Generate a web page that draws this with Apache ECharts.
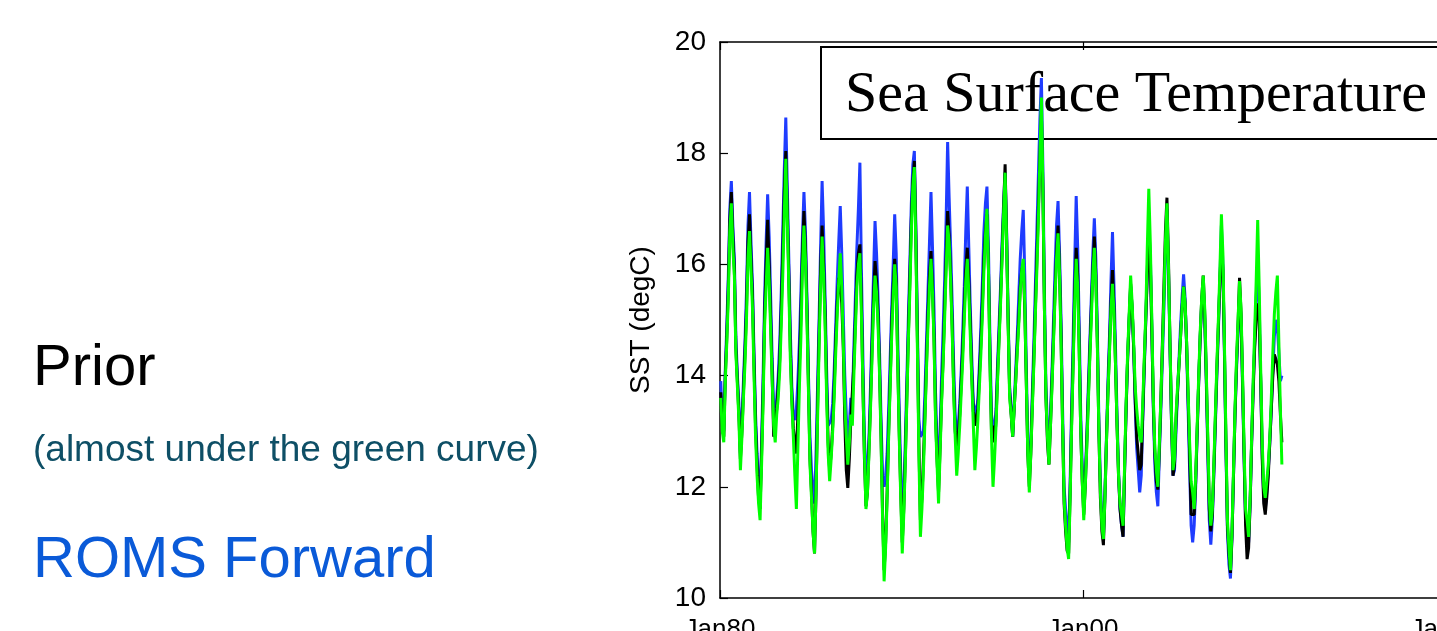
<!DOCTYPE html>
<html>
<head>
<meta charset="utf-8">
<script src="https://cdn.jsdelivr.net/npm/echarts@6/dist/echarts.min.js"></script>
<style>
html, body { margin: 0; padding: 0; background: #fff; }
#sstchart { width: 1437px; height: 631px; }
</style>
</head>
<body>
<div id="sstchart"></div>
<script>
// one row per year, Jan..Dec monthly SST (degC)
const years = [1980, 1981, 1982, 1983, 1984, 1985, 1986, 1987, 1988, 1989,
  1990, 1991, 1992, 1993, 1994, 1995, 1996, 1997, 1998, 1999,
  2000, 2001, 2002, 2003, 2004, 2005, 2006, 2007, 2008, 2009, 2010];

const xTickLabels = ['Jan80', 'Jan00', 'Jan20'];

// ROMS Forward (blue)
const forwardSST = [
  13.9, 13.2, 13.0, 14.1, 14.9, 15.8, 17.0, 17.5, 16.7, 16.1, 14.7, 14.0,
  13.5, 12.6, 13.2, 13.9, 14.6, 15.5, 16.7, 17.3, 16.4, 15.6, 14.4, 13.3,
  12.6, 12.0, 11.8, 12.8, 14.0, 15.4, 16.4, 17.26, 16.5, 15.4, 14.3, 13.4,
  13.2, 13.6, 14.0, 14.6, 15.5, 16.6, 17.7, 18.64, 17.4, 16.1, 14.8, 13.8,
  13.3, 13.2, 13.4, 13.9, 14.6, 15.5, 16.5, 17.3, 16.6, 15.4, 14.0, 12.9,
  12.3, 11.9, 11.7, 12.6, 13.8, 15.0, 16.3, 17.5, 16.6, 15.4, 14.1, 13.1,
  13.1, 13.2, 13.5, 14.1, 14.9, 15.7, 16.4, 17.05, 16.2, 15.1, 14.0, 13.3,
  12.6, 13.1, 13.6, 13.5, 14.5, 15.4, 16.3, 17.0, 17.83, 15.9, 14.3, 12.9,
  12.1, 12.3, 12.9, 13.8, 14.8, 15.8, 16.78, 16.2, 15.4, 14.4, 13.2, 12.2,
  12.0, 12.2, 12.6, 13.4, 14.3, 15.2, 16.0, 16.9, 16.2, 14.7, 13.4, 12.3,
  11.5, 11.9, 12.8, 13.9, 15.0, 16.0, 17.1, 17.8, 18.04, 16.7, 14.9, 13.2,
  12.9, 12.9, 13.0, 13.7, 14.6, 15.5, 16.4, 17.3, 16.3, 15.2, 13.7, 12.8,
  12.1, 13.0, 14.0, 14.8, 15.7, 16.8, 18.2, 17.2, 16.3, 15.3, 14.2, 13.3,
  12.8, 13.1, 13.5, 14.1, 14.8, 15.6, 16.6, 17.4, 16.3, 15.2, 14.3, 13.5,
  13.5, 13.3, 13.6, 14.2, 14.9, 15.7, 16.6, 17.1, 17.4, 16.3, 14.6, 13.3,
  13.1, 13.0, 13.4, 14.2, 14.9, 15.6, 16.4, 17.1, 17.65, 16.6, 15.1, 13.8,
  13.4, 12.9, 13.5, 14.1, 14.7, 15.4, 16.1, 16.6, 16.98, 15.8, 14.2, 12.8,
  12.2, 12.8, 13.7, 14.6, 15.6, 16.6, 17.6, 18.6, 19.35, 17.7, 15.5, 13.8,
  13.1, 12.6, 13.3, 14.1, 15.0, 15.9, 16.7, 17.14, 16.2, 15.0, 13.4, 12.0,
  11.6, 11.3, 11.0, 12.1, 13.5, 14.7, 16.0, 17.23, 16.3, 14.9, 13.3, 12.4,
  11.7, 12.2, 12.9, 13.8, 14.6, 15.4, 16.2, 16.83, 16.1, 14.8, 13.2, 12.1,
  11.4, 11.1, 11.9, 12.9, 13.9, 14.7, 15.7, 16.58, 15.6, 14.5, 13.3, 12.3,
  11.6, 11.3, 11.1, 12.3, 13.4, 14.3, 15.0, 15.6, 15.2, 14.5, 13.5, 12.7,
  12.3, 11.9, 12.2, 13.2, 14.1, 15.0, 15.9, 16.6, 16.2, 14.9, 13.4, 12.4,
  11.9, 11.65, 12.6, 13.4, 14.3, 15.2, 16.2, 17.0, 15.9, 14.5, 13.2, 12.2,
  12.3, 13.0, 13.7, 14.3, 14.9, 15.4, 15.82, 15.4, 14.5, 13.4, 12.3, 11.3,
  11.0, 11.3, 12.0, 13.0, 13.9, 14.7, 15.3, 15.6, 15.0, 13.9, 12.6, 11.4,
  10.96, 11.4, 12.2, 13.1, 14.0, 14.8, 15.7, 16.7, 16.0, 14.4, 12.7, 11.2,
  10.6, 10.35, 11.1, 12.2, 13.3, 14.1, 14.8, 15.5, 15.0, 13.8, 12.5, 11.4,
  11.2, 11.0, 11.7, 12.8, 13.8, 14.6, 15.4, 16.0, 15.3, 13.9, 12.6, 11.8,
  11.6, 11.9, 12.3, 12.8, 13.4, 14.1, 14.7, 15.0, 14.9, 14.4, 13.9, 14.0
];

// Prior (black)
const priorSST = [
  13.7, 13.1, 12.9, 14.0, 14.7, 15.6, 16.8, 17.3, 16.5, 15.9, 14.5, 13.9,
  13.3, 12.5, 13.0, 13.7, 14.4, 15.2, 16.4, 16.9, 16.1, 15.4, 14.2, 13.1,
  12.4, 11.8, 11.6, 12.6, 13.7, 15.1, 16.0, 16.8, 16.0, 15.0, 14.0, 12.9,
  12.9, 13.4, 13.8, 14.3, 15.2, 16.2, 17.3, 18.04, 17.0, 15.8, 14.5, 13.6,
  13.05, 12.8, 12.6, 13.3, 14.2, 15.1, 16.2, 16.96, 16.3, 15.2, 13.8, 12.5,
  11.9, 11.2, 10.8, 11.9, 13.4, 14.7, 15.9, 16.7, 16.0, 15.1, 13.8, 12.8,
  12.3, 12.6, 13.1, 13.8, 14.6, 15.3, 15.76, 15.6, 15.3, 14.5, 13.2, 12.3,
  11.98, 12.5, 13.2, 13.2, 14.2, 15.0, 15.8, 16.2, 16.36, 15.3, 13.8, 12.5,
  11.65, 11.9, 12.7, 13.5, 14.5, 15.4, 16.06, 15.7, 15.1, 14.1, 12.9, 11.5,
  10.5, 11.0, 11.9, 13.0, 13.9, 14.9, 15.6, 16.1, 15.7, 14.3, 13.0, 11.9,
  11.0, 11.6, 12.5, 13.6, 14.7, 15.7, 16.8, 17.5, 17.86, 16.5, 14.7, 12.8,
  11.4, 11.8, 12.5, 13.3, 14.2, 15.1, 15.8, 16.24, 15.6, 14.7, 13.3, 12.5,
  11.9, 12.7, 13.6, 14.3, 15.2, 16.1, 16.96, 16.5, 15.8, 14.9, 13.8, 13.0,
  12.7, 12.9, 13.3, 13.9, 14.5, 15.2, 15.9, 16.3, 15.7, 14.9, 14.0, 13.36,
  13.1, 13.1, 13.4, 14.0, 14.6, 15.3, 16.1, 16.6, 16.9, 15.9, 14.3, 13.0,
  13.1, 12.8, 13.2, 14.0, 14.7, 15.4, 16.2, 17.0, 17.8, 16.5, 15.0, 13.7,
  13.3, 12.9, 13.4, 13.9, 14.5, 15.0, 15.6, 15.9, 16.0, 15.2, 13.9, 12.6,
  12.0, 12.6, 13.5, 14.3, 15.2, 16.1, 17.0, 17.9, 18.7, 17.3, 15.2, 13.6,
  12.8, 12.4, 13.1, 13.9, 14.7, 15.5, 16.2, 16.7, 15.9, 14.7, 13.1, 11.7,
  11.2, 10.85, 10.8, 11.9, 13.2, 14.3, 15.5, 16.3, 15.8, 14.5, 13.0, 12.1,
  11.5, 12.0, 12.8, 13.6, 14.4, 15.2, 15.9, 16.5, 15.8, 14.6, 13.0, 11.8,
  11.2, 10.95, 11.8, 12.8, 13.7, 14.5, 15.3, 15.9, 15.2, 14.2, 13.1, 12.2,
  11.6, 11.3, 11.1, 12.3, 13.4, 14.3, 15.0, 15.65, 15.2, 14.5, 13.6, 12.9,
  12.6, 12.3, 12.4, 13.3, 14.2, 15.0, 15.8, 16.4, 16.0, 14.8, 13.5, 12.6,
  12.1, 11.95, 12.7, 13.6, 14.6, 15.6, 16.6, 17.2, 16.1, 14.6, 13.2, 12.2,
  12.4, 13.2, 13.7, 14.2, 14.7, 15.2, 15.6, 15.3, 14.6, 13.6, 12.6, 11.5,
  11.5, 11.5, 12.1, 13.0, 13.9, 14.7, 15.4, 15.8, 15.1, 14.0, 12.8, 11.6,
  11.2, 11.5, 12.3, 13.2, 14.1, 14.9, 15.7, 16.36, 15.9, 14.5, 12.8, 11.3,
  10.8, 10.45, 11.1, 12.2, 13.3, 14.2, 14.9, 15.76, 15.1, 13.9, 12.6, 11.3,
  10.7, 10.9, 11.7, 12.8, 13.7, 14.5, 15.0, 15.3, 15.0, 13.9, 12.5, 11.7,
  11.5, 11.8, 12.2, 12.8, 13.4, 14.0, 14.38, 14.3, 14.2, 13.9, 13.3, 12.8
];

// green curve
const greenSST = [
  13.6, 13.0, 12.8, 13.9, 14.6, 15.4, 16.6, 17.1, 16.3, 15.8, 14.4, 13.8,
  13.2, 12.3, 12.9, 13.6, 14.2, 15.0, 16.1, 16.6, 15.9, 15.2, 14.0, 12.9,
  12.2, 11.7, 11.4, 12.4, 13.5, 14.9, 15.6, 16.3, 15.7, 14.8, 13.9, 13.1,
  12.8, 13.3, 13.6, 14.1, 14.9, 15.8, 16.9, 17.9, 16.8, 15.6, 14.3, 13.5,
  12.9, 12.2, 11.6, 12.7, 13.8, 14.7, 15.9, 16.7, 16.1, 15.0, 13.7, 12.4,
  11.8, 11.2, 10.8, 11.9, 13.2, 14.5, 15.6, 16.5, 15.8, 14.9, 13.6, 12.6,
  12.1, 12.5, 13.0, 13.6, 14.4, 15.1, 15.7, 16.2, 15.6, 14.6, 13.5, 12.9,
  12.4, 12.8, 13.3, 13.1, 14.0, 14.8, 15.6, 16.0, 16.2, 15.1, 13.8, 12.6,
  11.6, 11.9, 12.6, 13.4, 14.3, 15.2, 15.8, 15.5, 14.9, 14.0, 12.8, 11.4,
  10.3, 10.9, 11.8, 12.9, 13.8, 14.7, 15.4, 16.0, 15.6, 14.2, 12.9, 11.8,
  10.8, 11.5, 12.4, 13.5, 14.6, 15.5, 16.6, 17.4, 17.75, 16.3, 14.5, 12.6,
  11.1, 11.6, 12.3, 13.2, 14.1, 14.9, 15.6, 16.1, 15.5, 14.6, 13.2, 12.4,
  11.7, 12.6, 13.5, 14.2, 15.0, 15.9, 16.7, 16.4, 15.7, 14.8, 13.7, 12.9,
  12.2, 12.6, 13.1, 13.7, 14.3, 15.0, 15.7, 16.1, 15.5, 14.7, 13.9, 13.1,
  12.3, 12.7, 13.2, 13.8, 14.4, 15.1, 15.9, 16.5, 17.0, 15.9, 14.2, 12.9,
  12.0, 12.5, 13.1, 13.9, 14.6, 15.3, 16.1, 16.9, 17.65, 16.4, 14.9, 13.6,
  13.3, 12.9, 13.4, 13.9, 14.4, 14.9, 15.5, 15.9, 16.1, 15.3, 13.9, 12.6,
  11.9, 12.6, 13.4, 14.2, 15.1, 15.9, 16.8, 17.9, 19.0, 17.4, 15.2, 13.6,
  12.9, 12.4, 13.1, 13.8, 14.6, 15.4, 16.1, 16.56, 15.8, 14.6, 13.1, 11.8,
  11.3, 10.9, 10.7, 11.8, 13.1, 14.2, 15.3, 16.1, 15.6, 14.4, 13.0, 12.1,
  11.4, 12.0, 12.7, 13.5, 14.3, 15.0, 15.8, 16.3, 15.7, 14.5, 13.0, 11.9,
  11.3, 11.06, 11.8, 12.8, 13.7, 14.4, 15.2, 15.65, 15.1, 14.2, 13.1, 12.2,
  11.7, 11.5, 11.3, 12.4, 13.5, 14.4, 15.1, 15.8, 15.3, 14.6, 13.8, 13.4,
  13.1, 12.9, 12.8, 13.5, 14.3, 15.1, 16.3, 17.36, 16.4, 15.0, 13.6, 12.7,
  12.3, 12.0, 12.8, 13.6, 14.5, 15.4, 16.4, 17.1, 16.0, 14.6, 13.3, 12.3,
  12.5, 13.3, 13.8, 14.2, 14.7, 15.2, 15.6, 15.3, 14.6, 13.7, 12.8, 12.1,
  11.9, 11.6, 12.2, 13.1, 14.0, 14.8, 15.4, 15.8, 15.2, 14.1, 12.9, 11.8,
  11.3, 11.6, 12.4, 13.3, 14.2, 15.0, 15.9, 16.9, 16.2, 14.6, 12.9, 11.4,
  10.9, 10.5, 11.2, 12.3, 13.4, 14.3, 15.0, 15.7, 15.2, 14.0, 12.7, 11.6,
  11.4, 11.1, 11.8, 12.9, 13.9, 14.8, 15.7, 16.8, 15.6, 14.1, 12.8, 12.0,
  11.8, 12.1, 12.4, 12.9, 13.6, 14.4, 15.1, 15.5, 15.8, 14.6, 13.4, 12.4
];

// pair each monthly value with its mid-month decimal year
function toPoints(values) {
  const pts = [];
  years.forEach((yr, i) => {
    for (let m = 0; m < 12; m++) {
      pts.push([yr + (m + 0.5) / 12, values[i * 12 + m]]);
    }
  });
  return pts;
}

const axisFont = 'Liberation Sans, Arial, Helvetica, sans-serif';

let option = {
  animation: false,
  backgroundColor: '#fff',
  grid: {
    left: 720,
    top: 42,
    bottom: 33,
    right: -9,
    outerBoundsMode: 'none'
  },
  xAxis: [{
    type: 'value',
    min: 1980,
    max: 2020,
    interval: 20,
    axisLine: { show: true, onZero: false, lineStyle: { color: '#000', width: 1.5 } },
    axisTick: { show: true, inside: true, length: 8, lineStyle: { color: '#000', width: 1.2 } },
    axisLabel: {
      color: '#000',
      fontFamily: axisFont,
      fontSize: 26,
      margin: 19,
      formatter: v => xTickLabels[Math.round((v - 1980) / 20)]
    },
    splitLine: { show: false }
  }, {
    type: 'value',
    position: 'top',
    min: 1980,
    max: 2020,
    interval: 20,
    axisLine: { show: true, onZero: false, lineStyle: { color: '#000', width: 1.5 } },
    axisTick: { show: true, inside: true, length: 8, lineStyle: { color: '#000', width: 1.2 } },
    axisLabel: { show: false },
    splitLine: { show: false }
  }],
  yAxis: {
    type: 'value',
    min: 10,
    max: 20,
    interval: 2,
    name: 'SST (degC)',
    nameLocation: 'middle',
    nameGap: 65,
    nameTextStyle: { color: '#000', fontFamily: axisFont, fontSize: 28 },
    axisLine: { show: true, onZero: false, lineStyle: { color: '#000', width: 1.5 } },
    axisTick: { show: true, inside: true, length: 8, lineStyle: { color: '#000', width: 1.2 } },
    axisLabel: { color: '#000', fontFamily: axisFont, fontSize: 28, margin: 14 },
    splitLine: { show: false }
  },
  series: [{
    name: 'ROMS Forward',
    type: 'line',
    data: toPoints(forwardSST),
    showSymbol: false,
    lineStyle: { color: '#1f3cff', width: 3 },
    z: 2
  }, {
    name: 'Prior',
    type: 'line',
    data: toPoints(priorSST),
    showSymbol: false,
    lineStyle: { color: '#000', width: 3 },
    z: 3
  }, {
    name: 'green',
    type: 'line',
    data: toPoints(greenSST),
    showSymbol: false,
    lineStyle: { color: '#00ff00', width: 3 },
    z: 4
  }],
  graphic: [{
    type: 'rect',
    z: 1,
    shape: { x: 821, y: 47, width: 660, height: 92 },
    style: { fill: 'none', stroke: '#000', lineWidth: 2 }
  }, {
    type: 'text',
    z: 1,
    left: 845,
    top: 67,
    style: {
      text: 'Sea Surface Temperature',
      fill: '#000',
      font: '58px "Liberation Serif", "Times New Roman", serif'
    }
  }, {
    type: 'text',
    left: 33,
    top: 340,
    style: { text: 'Prior', fill: '#000', font: '58px "Liberation Sans", Arial, sans-serif' }
  }, {
    type: 'text',
    left: 33,
    top: 432,
    style: { text: '(almost under the green curve)', fill: '#0e4f66', font: '37px "Liberation Sans", Arial, sans-serif' }
  }, {
    type: 'text',
    left: 33,
    top: 532,
    style: { text: 'ROMS Forward', fill: '#0a5ad8', font: '58px "Liberation Sans", Arial, sans-serif' }
  }]
};

let myChart = echarts.init(document.getElementById('sstchart'));
myChart.setOption(option);
</script>
</body>
</html>
